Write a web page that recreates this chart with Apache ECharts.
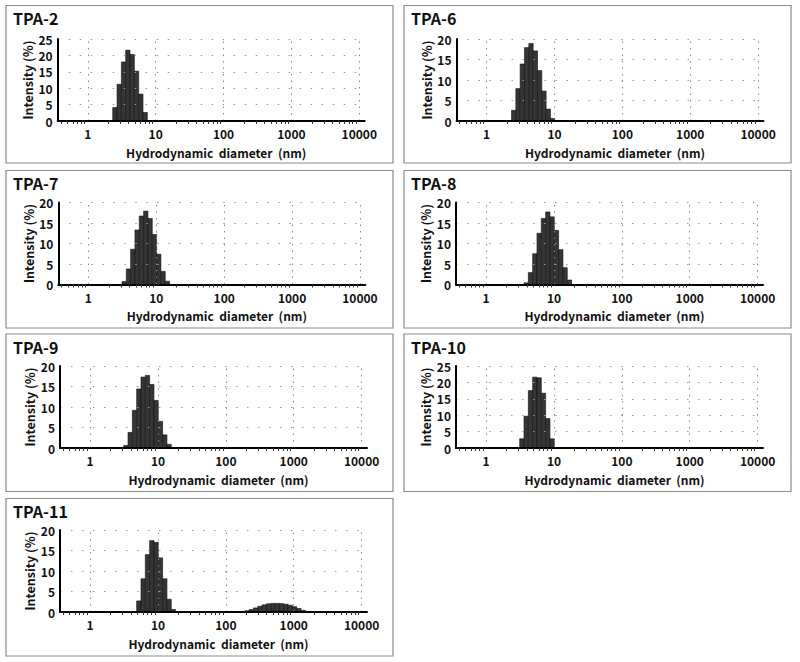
<!DOCTYPE html>
<html>
<head>
<meta charset="utf-8">
<script src="https://cdn.jsdelivr.net/npm/echarts@6.0.0/dist/echarts.min.js"></script>
<style>
html,body{margin:0;padding:0;background:#fff;}
#chart{width:800px;height:662px;}
</style>
</head>
<body>
<div id="chart"></div>
<script>
// ---------------- data ----------------
const panelNames = ['TPA-2', 'TPA-6', 'TPA-7', 'TPA-8', 'TPA-9', 'TPA-10', 'TPA-11'];
const yAxisMax = [25, 20, 20, 20, 20, 25, 20];
const xTickValues = [1, 10, 100, 1000, 10000];

// bin sizes (nm, lower edge of each size class) and intensities (%)
const tpa2Size = [2.328, 2.696, 3.122, 3.615, 4.187, 4.849, 5.615, 6.503];
const tpa2Int  = [4.1, 11.2, 18.0, 21.6, 20.3, 15.2, 8.2, 2.6];

const tpa6Size = [2.328, 2.696, 3.122, 3.615, 4.187, 4.849, 5.615, 6.503, 7.531, 8.721];
const tpa6Int  = [2.6, 7.9, 13.9, 17.9, 18.9, 17.1, 12.3, 7.3, 2.9, 0.6];

const tpa7Size = [3.122, 3.615, 4.187, 4.849, 5.615, 6.503, 7.531, 8.721, 10.1, 11.7, 13.54];
const tpa7Int  = [0.7, 3.8, 8.6, 13.3, 16.7, 17.9, 16.1, 12.2, 7.4, 3.2, 0.8];

const tpa8Size = [3.615, 4.187, 4.849, 5.615, 6.503, 7.531, 8.721, 10.1, 11.7, 13.54, 15.69];
const tpa8Int  = [0.4, 2.9, 7.5, 12.5, 16.1, 17.7, 16.5, 13.2, 8.5, 4.1, 1.1];

const tpa9Size = [3.122, 3.615, 4.187, 4.849, 5.615, 6.503, 7.531, 8.721, 10.1, 11.7, 13.54];
const tpa9Int  = [0.6, 3.8, 9.2, 14.4, 17.3, 17.7, 15.5, 11.6, 6.5, 3.2, 0.9];

const tpa10Size = [3.122, 3.615, 4.187, 4.849, 5.615, 6.503, 7.531, 8.721];
const tpa10Int  = [2.8, 9.7, 17.5, 21.6, 21.4, 16.7, 9.0, 2.8];

const tpa11Size = [4.849, 5.615, 6.503, 7.531, 8.721, 10.1, 11.7, 13.54, 15.69,
                   164.2, 190.1, 220.2, 255.0, 295.3, 342.0, 396.1, 458.7, 531.2,
                   615.1, 712.4, 825.0, 955.4, 1106, 1281];
const tpa11Int  = [2.7, 8.1, 14.0, 17.4, 17.0, 13.2, 8.1, 3.1, 0.6,
                   0.1, 0.3, 0.6, 1.0, 1.4, 1.75, 2.0, 2.1, 2.1,
                   2.05, 1.9, 1.65, 1.3, 0.85, 0.4];

const panelSizes = [tpa2Size, tpa6Size, tpa7Size, tpa8Size, tpa9Size, tpa10Size, tpa11Size];
const panelInts  = [tpa2Int, tpa6Int, tpa7Int, tpa8Int, tpa9Int, tpa10Int, tpa11Int];

// ---------------- layout / style ----------------
const FONT = '"Noto Sans CJK KR", "Noto Sans", sans-serif';
const BIN_RATIO = 1.1582;          // width of one size class (log spacing)
const X_MIN = 0.36, X_MAX = 12000;
const boxX = [6, 404, 6, 404, 6, 404, 6];
const boxY = [5.5, 5.5, 170.5, 170.5, 334, 334, 498.5];
const gridLeft = [57.7, 456.5, 58.3, 456, 60, 456, 60];
const gridTop = [39, 39, 202.5, 202.5, 366, 366, 530];
const BOX_W = 387, BOX_H = 157.5;
const GRID_W = 307, GRID_H = 82;

const grids = [], xAxes = [], yAxes = [], series = [], titles = [], graphics = [];

panelNames.forEach((name, i) => {
  graphics.push({
    type: 'rect', silent: true, z: 0,
    shape: { x: boxX[i], y: boxY[i], width: BOX_W, height: BOX_H },
    style: { fill: 'none', stroke: '#8c8c8c', lineWidth: 1.2 }
  });
  titles.push({
    text: name, left: boxX[i] + 7, top: boxY[i] + 4.5, padding: 0,
    textStyle: { fontFamily: FONT, fontSize: 16, fontWeight: 'bold', color: '#111', lineHeight: 16 }
  });
  grids.push({ left: gridLeft[i], top: gridTop[i], width: GRID_W, height: GRID_H });
  xAxes.push({
    type: 'log', logBase: 10, gridIndex: i, min: X_MIN, max: X_MAX, z: 5,
    axisLine: { show: true, onZero: false, lineStyle: { color: '#000', width: 2 } },
    axisTick: { show: false },
    minorTick: { show: true, splitNumber: 9, length: 3, lineStyle: { color: '#333', width: 1 } },
    splitLine: { show: false },
    minorSplitLine: { show: false },
    axisLabel: {
      showMinLabel: false, showMaxLabel: false, margin: 6.5,
      color: '#111', fontFamily: FONT, fontSize: 12, fontWeight: 'bold',
      formatter: v => String(Math.round(v))
    },
    name: 'Hydrodynamic  diameter  (nm)', nameLocation: 'middle', nameGap: 25,
    nameTextStyle: { color: '#111', fontFamily: FONT, fontSize: 12, fontWeight: 'bold', padding: [0, 0, 0, 10] }
  });
  yAxes.push({
    type: 'value', gridIndex: i, min: 0, max: yAxisMax[i], interval: 5, z: 5,
    axisLine: { show: true, lineStyle: { color: '#000', width: 2 } },
    axisTick: { show: false },
    splitLine: { show: true, lineStyle: { color: '#9a9a9a', type: [1.5, 9.5], width: 1 } },
    axisLabel: { margin: 5, color: '#111', fontFamily: FONT, fontSize: 12, fontWeight: 'bold', lineHeight: 12 },
    name: 'Intensity (%)', nameLocation: 'middle', nameGap: 24, nameRotate: 90,
    nameTextStyle: { color: '#111', fontFamily: FONT, fontSize: 12.5, fontWeight: 'bold' }
  });
  // vertical dotted grid lines at decades
  series.push({
    type: 'line', xAxisIndex: i, yAxisIndex: i, data: [], silent: true, z: 1,
    markLine: {
      silent: true, symbol: 'none', animation: false,
      label: { show: false }, emphasis: { disabled: true },
      lineStyle: { color: '#8a8a8a', type: [1.5, 5], width: 1 },
      data: xTickValues.map(v => ({ xAxis: v }))
    }
  });
  // histogram bars
  series.push({
    type: 'custom', xAxisIndex: i, yAxisIndex: i, silent: true, z: 3,
    encode: { x: 0, y: 1 },
    data: panelSizes[i].map((s, k) => [s, panelInts[i][k]]),
    renderItem: (params, api) => {
      const s = api.value(0), v = api.value(1);
      const p0 = api.coord([s, 0]);
      const p1 = api.coord([s * BIN_RATIO, v]);
      return {
        type: 'rect',
        shape: { x: p0[0], y: p1[1], width: p1[0] - p0[0], height: p0[1] - p1[1] },
        style: { fill: '#353535', stroke: '#111', lineWidth: 0.6 }
      };
    }
  });
});

const chart = echarts.init(document.getElementById('chart'), null, { renderer: 'svg' });
chart.setOption({
  animation: false,
  backgroundColor: '#fff',
  title: titles,
  grid: grids,
  xAxis: xAxes,
  yAxis: yAxes,
  series: series,
  graphic: graphics
});
</script>
</body>
</html>
